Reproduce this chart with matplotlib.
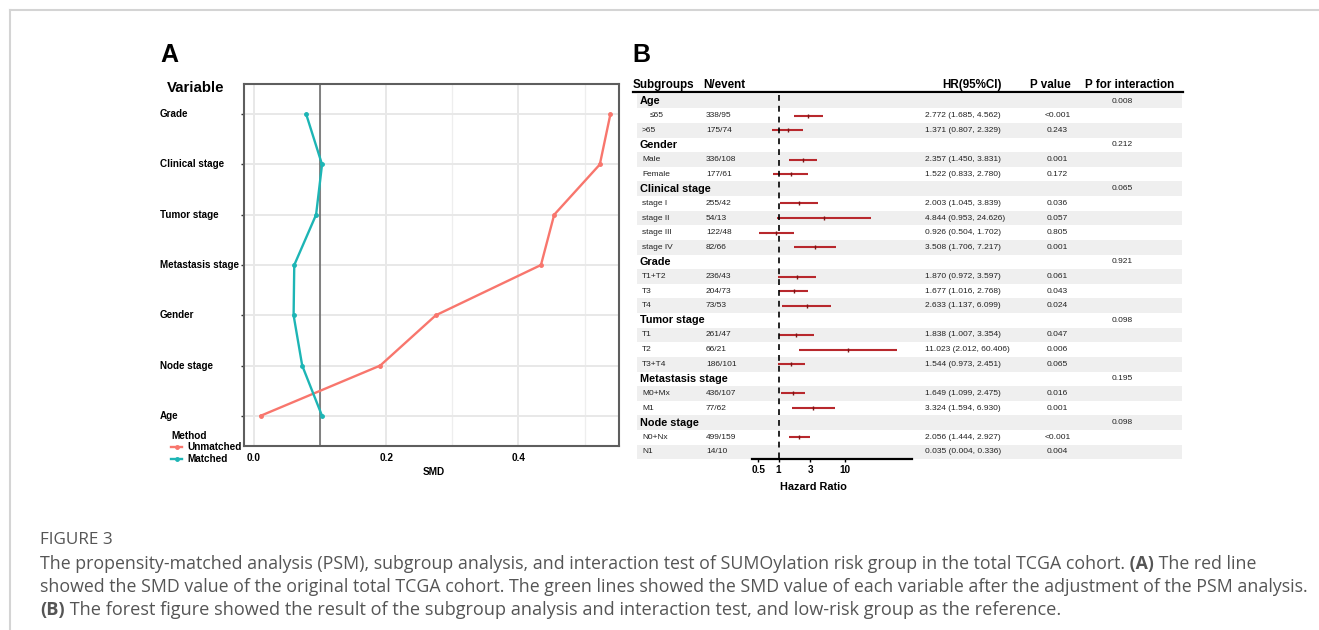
import numpy as np
import matplotlib.pyplot as plt
from matplotlib.lines import Line2D
from matplotlib.patches import Rectangle

plt.rcParams['font.family'] = ['Liberation Sans', 'DejaVu Sans']

# ---------------- data: panel A (SMD) ----------------
variables = ['Age', 'Node stage', 'Gender', 'Metastasis stage',
             'Tumor stage', 'Clinical stage', 'Grade']
smd_unmatched = [0.010, 0.191, 0.275, 0.434, 0.454, 0.523, 0.539]
smd_matched = [0.103, 0.073, 0.060, 0.061, 0.094, 0.103, 0.079]

# ---------------- data: panel B (forest) ----------------
subgroups = ['Age', '≤65', '>65', 'Gender', 'Male', 'Female',
             'Clinical stage', 'stage I', 'stage II', 'stage III', 'stage IV',
             'Grade', 'T1+T2', 'T3', 'T4',
             'Tumor stage', 'T1', 'T2', 'T3+T4',
             'Metastasis stage', 'M0+Mx', 'M1',
             'Node stage', 'N0+Nx', 'N1']
is_group = [1, 0, 0, 1, 0, 0, 1, 0, 0, 0, 0, 1, 0, 0, 0, 1, 0, 0, 0, 1, 0, 0, 1, 0, 0]
n_event = ['', '338/95', '175/74', '', '336/108', '177/61',
           '', '255/42', '54/13', '122/48', '82/66',
           '', '236/43', '204/73', '73/53',
           '', '261/47', '66/21', '186/101',
           '', '436/107', '77/62',
           '', '499/159', '14/10']
nan = np.nan
hr = [nan, 2.772, 1.371, nan, 2.357, 1.522, nan, 2.003, 4.844, 0.926, 3.508,
      nan, 1.870, 1.677, 2.633, nan, 1.838, 11.023, 1.544, nan, 1.649, 3.324,
      nan, 2.056, 0.035]
ci_low = [nan, 1.685, 0.807, nan, 1.450, 0.833, nan, 1.045, 0.953, 0.504, 1.706,
          nan, 0.972, 1.016, 1.137, nan, 1.007, 2.012, 0.973, nan, 1.099, 1.594,
          nan, 1.444, 0.004]
ci_high = [nan, 4.562, 2.329, nan, 3.831, 2.780, nan, 3.839, 24.626, 1.702, 7.217,
           nan, 3.597, 2.768, 6.099, nan, 3.354, 60.406, 2.451, nan, 2.475, 6.930,
           nan, 2.927, 0.336]
p_value = ['', '<0.001', '0.243', '', '0.001', '0.172',
           '', '0.036', '0.057', '0.805', '0.001',
           '', '0.061', '0.043', '0.024',
           '', '0.047', '0.006', '0.065',
           '', '0.016', '0.001',
           '', '<0.001', '0.004']
p_inter = ['0.008', '', '', '0.212', '', '', '0.065', '', '', '', '',
           '0.921', '', '', '', '0.098', '', '', '', '0.195', '', '',
           '0.098', '', '']
hr_ticks = [0.5, 1, 3, 10]

W, H = 1319, 630
fig = plt.figure(figsize=(W / 100, H / 100), dpi=100)


def px(x0, y0, x1, y1):
    # pixel box, origin top-left -> figure rect
    return [x0 / W, 1 - y1 / H, (x1 - x0) / W, (y1 - y0) / H]


def ftxt(x, y, s, **kw):
    return fig.text(x / W, 1 - y / H, s, **kw)


# frame of the figure page
fig.add_artist(Line2D([10 / W, 10 / W], [0, 1 - 10 / H], transform=fig.transFigure,
                      color='#d4d4d4', lw=1.5))
fig.add_artist(Line2D([10 / W, 1], [1 - 10 / H, 1 - 10 / H], transform=fig.transFigure,
                      color='#d4d4d4', lw=1.5))

# ================= panel A =================
ftxt(160, 62, 'A', fontsize=18, fontweight='bold', va='baseline')
axA = fig.add_axes(px(244, 84, 619, 446))
yA = np.arange(1, len(variables) + 1)
axA.plot(smd_unmatched, yA, color='#F8766D', lw=1.7, marker='o', ms=2.5,
         label='Unmatched', zorder=3)
axA.plot(smd_matched, yA, color='#1DB5B5', lw=1.7, marker='o', ms=2.5,
         label='Matched', zorder=3)
axA.axvline(0.1, color='#606060', lw=1.1, zorder=2)
axA.set_xlim(-0.015, 0.552)
axA.set_ylim(0.4, 7.6)
axA.set_xticks([0, 0.2, 0.4])
axA.set_xticklabels(['0.0', '0.2', '0.4'], fontweight='bold', fontsize=7.2)
axA.set_xticks([0.1, 0.3, 0.5], minor=True)
axA.set_yticks(yA)
axA.set_yticklabels([])
axA.grid(which='major', color='#E8E8E8', lw=1.4)
axA.grid(which='minor', axis='x', color='#EEEEEE', lw=0.9)
axA.set_axisbelow(True)
axA.tick_params(axis='x', which='both', length=0, pad=5)
axA.tick_params(axis='y', length=2.5, width=1, color='#333333')
for s in axA.spines.values():
    s.set_color('#5e5e5e')
    s.set_linewidth(1.5)
for y, lbl in zip(yA, variables):
    axA.text(-0.224, y, lbl, transform=axA.get_yaxis_transform(), ha='left',
             va='center', fontsize=7.1, fontweight='bold')
ftxt(196, 88, 'Variable', fontsize=10.8, fontweight='bold', ha='center', va='center')
ftxt(434, 472, 'SMD', fontsize=7.2, fontweight='bold', ha='center', va='center')
leg = fig.legend(handles=axA.get_lines()[:2], loc='upper left',
                 bbox_to_anchor=(171 / W, 1 - 431 / H), frameon=False,
                 title='Method', fontsize=7.2, borderpad=0, borderaxespad=0,
                 labelspacing=0.15, handlelength=1.1, handletextpad=0.5,
                 alignment='left', title_fontproperties={'weight': 'bold', 'size': 7.2})
for t in leg.get_texts():
    t.set_fontweight('bold')

# ================= panel B =================
ftxt(632, 62, 'B', fontsize=18, fontweight='bold', va='baseline')
n = len(subgroups)
rows = np.arange(n)
top, bot = 93.7, 459.3
tab = fig.add_axes(px(633, top, 1183, bot))
tab.set_xlim(633, 1183)
tab.set_ylim(n - 0.5, -0.5)
tab.axis('off')
for i in rows:
    if i % 2 == 0:
        tab.add_patch(Rectangle((637, i - 0.5), 1182 - 637, 1, color='#EFEFEF', lw=0))
tab.plot([633, 1183], [-0.6, -0.6], color='black', lw=1.6, clip_on=False)

hy = -1.12
hdr = dict(fontsize=8.4, fontweight='bold', va='center')
tab.text(633, hy, 'Subgroups', ha='left', **hdr)
tab.text(703, hy, 'N/event', ha='left', **hdr)
tab.text(972, hy, 'HR(95%CI)', ha='center', **hdr)
tab.text(1050, hy, 'P value', ha='center', **hdr)
tab.text(1130, hy, 'P for interaction', ha='center', **hdr)

val = dict(fontsize=6, va='center', color='#222222')
for i in rows:
    if is_group[i]:
        tab.text(640, i, subgroups[i], fontsize=7.8, fontweight='bold', va='center')
    else:
        x0 = 650 if subgroups[i] == '≤65' else 642
        tab.text(x0, i, subgroups[i], **val)
        tab.text(706, i, n_event[i], **val)
        tab.text(925, i, '%.3f (%.3f, %.3f)' % (hr[i], ci_low[i], ci_high[i]), **val)
        tab.text(1045 if p_value[i].startswith('<') else 1047, i, p_value[i], **val)
    if p_inter[i]:
        tab.text(1112, i, p_inter[i], **val)

fo = fig.add_axes(px(752, top, 912, bot), facecolor='none')
fo.set_xscale('log')
fo.set_xlim(0.4, 100)
fo.set_ylim(n - 0.5, -0.5)
fo.hlines(rows, ci_low, ci_high, color='#B8282D', lw=1.5)
fo.plot(hr, rows, '|', ms=3, mew=1, color='#7A1414', ls='none')
fo.vlines(1, -0.4, n - 0.6, colors='black', linestyles=(0, (3.5, 3)), lw=1.2)
for s in ['top', 'right', 'left']:
    fo.spines[s].set_visible(False)
fo.spines['bottom'].set_linewidth(1.6)
fo.set_yticks([])
fo.set_xticks(hr_ticks)
fo.set_xticklabels(['0.5', '1', '3', '10'], fontweight='bold', fontsize=7.2)
fo.minorticks_off()
fo.tick_params(axis='x', length=2, width=1, pad=2)
ftxt(813, 487, 'Hazard Ratio', fontsize=7.8, fontweight='bold', ha='center', va='center')

# ================= caption =================
cap = dict(family='Open Sans', color='#555555')
ftxt(40, 544, 'FIGURE 3', fontsize=12.3, va='baseline', **cap)
renderer = fig.canvas.get_renderer()


def runs(x, y, parts, size=12.8):
    for s, w in parts:
        t = ftxt(x, y, s, fontsize=size, fontweight=w, va='baseline', **cap)
        x += t.get_window_extent(renderer=renderer).width


runs(40, 569, [('The propensity-matched analysis (PSM), subgroup analysis, and interaction '
                'test of SUMOylation risk group in the total TCGA cohort.', 'normal'),
               (' (A)', 'bold'), (' The red line', 'normal')])
runs(40, 592, [('showed the SMD value of the original total TCGA cohort. The green lines '
                'showed the SMD value of each variable after the adjustment of the PSM '
                'analysis.', 'normal')])
runs(40, 615, [('(B)', 'bold'), (' The forest figure showed the result of the subgroup '
                'analysis and interaction test, and low-risk group as the reference.',
                'normal')], size=13.1)

fig.savefig('out.png', dpi=100)
